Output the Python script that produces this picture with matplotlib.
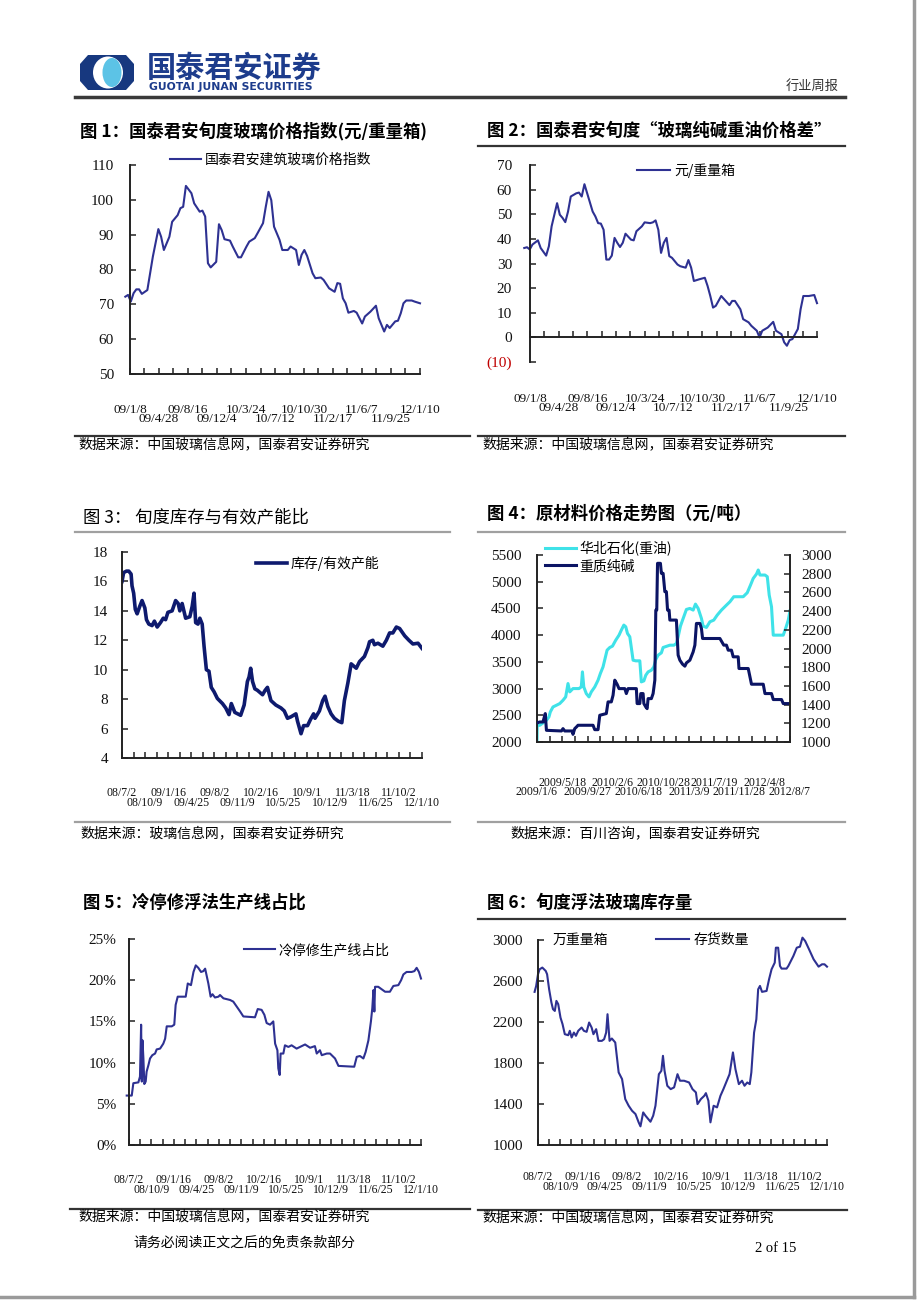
import numpy as np
import matplotlib.pyplot as plt
from matplotlib.patches import Polygon, Ellipse

plt.rcParams['font.family'] = ['Noto Sans CJK SC', 'DejaVu Sans']
SERIF = ['Liberation Serif', 'DejaVu Serif']

# ---------------- data ----------------
# fig 1: glass price index, x = 旬 index from 09/01/08
p1 = [0, 1, 2, 3, 4, 5, 6, 8, 9, 10,
      12, 13, 14, 16, 17, 19, 20, 21, 22, 24,
      25, 27, 28, 29, 30, 31, 33, 34, 35, 36,
      38, 39, 41, 42, 44, 45, 47, 48, 50, 51,
      52, 53, 54, 56, 57, 59, 60, 62, 63, 64,
      65, 66, 68, 69, 71, 72, 74, 76, 77, 78,
      79, 80, 81, 83, 84, 86, 87, 89, 91, 92,
      94, 95, 96, 98, 99, 100, 101, 102, 104, 105,
      107]
v1 = [72.2, 72.7, 70.8, 73.2, 74.3, 74.3, 73.0, 74.1, 78.9, 83.7,
      91.6, 89.4, 85.6, 89.4, 93.7, 95.6, 97.6, 98.0, 104.0, 101.9,
      99.0, 96.6, 96.9, 95.2, 81.8, 80.6, 82.2, 93.0, 91.3, 88.7,
      88.3, 86.6, 83.5, 83.5, 86.6, 88.0, 89.0, 90.4, 93.3, 98.0,
      102.3, 99.9, 92.3, 88.5, 85.6, 85.6, 86.6, 85.6, 81.3, 84.2,
      85.6, 83.9, 78.9, 77.5, 77.7, 77.0, 74.6, 73.6, 76.1, 75.9,
      71.7, 70.3, 67.6, 68.1, 67.6, 64.5, 66.5, 67.9, 69.6, 66.0,
      62.2, 64.1, 63.2, 65.1, 65.3, 67.4, 70.3, 71.1, 71.1, 70.8,
      70.3]

# fig 2: glass - soda ash - heavy oil spread
p2 = [0, 1, 2, 3, 5, 6, 8, 9, 10, 11,
      12, 13, 14, 15, 16, 17, 19, 20, 21, 22,
      23, 25, 26, 27, 28, 29, 30, 31, 32, 33,
      34, 35, 36, 37, 39, 40, 41, 43, 44, 46,
      47, 48, 49, 50, 51, 52, 53, 54, 56, 57,
      59, 60, 61, 62, 64, 66, 67, 68, 69, 70,
      71, 72, 75, 76, 77, 79, 80, 82, 83, 85,
      86, 87, 89, 91, 92, 94, 95, 96, 97, 98,
      100, 101, 102, 104, 106, 107]
v2 = [36.3, 36.6, 35.7, 37.7, 39.4, 36.3, 33.2, 37.0, 45.1, 49.8,
      54.5, 49.8, 48.5, 46.8, 51.1, 57.2, 58.5, 58.8, 57.2, 62.2,
      58.5, 51.1, 49.1, 46.4, 46.2, 43.7, 31.6, 31.6, 33.2, 40.4,
      38.4, 36.7, 38.4, 42.1, 39.7, 39.4, 43.1, 45.1, 46.7, 46.4,
      46.7, 47.5, 43.7, 34.3, 38.4, 40.4, 33.0, 32.3, 29.6, 28.9,
      28.3, 31.4, 28.3, 22.9, 23.6, 24.2, 20.9, 16.8, 12.1, 12.8,
      14.8, 16.8, 13.1, 14.8, 14.8, 11.4, 7.4, 6.1, 4.7, 2.7,
      0.0, 2.7, 4.0, 6.3, 2.7, 1.3, -2.0, -3.4, -1.1, -0.7,
      3.4, 11.4, 16.8, 16.8, 17.2, 13.9]

# fig 3: inventory / effective capacity, x = days from 08/07/02
d3 = [0, 7, 19, 29, 39, 43, 50, 57, 65, 76,
      86, 98, 105, 115, 129, 139, 151, 165, 177, 187,
      197, 215, 230, 241, 248, 258, 273, 291, 301, 309,
      316, 326, 334, 344, 352, 362, 373, 383, 395, 409,
      431, 445, 459, 469, 484, 509, 524, 538, 545, 552,
      560, 570, 581, 603, 614, 624, 639, 660, 682, 696,
      710, 725, 746, 753, 768, 779, 796, 808, 822, 828,
      847, 861, 871, 883, 897, 911, 928, 943, 954, 969,
      983, 1005, 1019, 1040, 1055, 1062, 1076, 1083, 1098, 1119,
      1134, 1148, 1162, 1177, 1191, 1213, 1231, 1248, 1270, 1287]
v3 = [16.0, 16.6, 16.7, 16.7, 16.5, 15.7, 15.2, 14.1, 13.8, 14.3,
      14.7, 14.2, 13.4, 13.1, 13.0, 13.3, 12.9, 13.2, 13.5, 13.4,
      13.9, 14.0, 14.7, 14.5, 14.0, 14.5, 13.5, 13.6, 14.3, 15.2,
      13.2, 13.1, 13.5, 13.1, 11.6, 10.0, 9.9, 8.8, 8.5, 8.05,
      7.7, 7.4, 6.95, 7.7, 7.1, 6.9, 7.6, 9.2, 9.5, 10.1,
      9.2, 8.7, 8.6, 8.3, 8.6, 8.8, 7.9, 7.6, 7.4, 7.2,
      6.7, 6.8, 7.0, 6.5, 5.65, 6.2, 6.2, 6.6, 7.0, 6.7,
      7.2, 7.9, 8.2, 7.5, 7.0, 6.7, 6.5, 6.4, 7.9, 9.1,
      10.4, 10.1, 10.55, 10.9, 11.5, 11.9, 12.0, 11.7, 11.8, 11.6,
      12.0, 12.5, 12.5, 12.9, 12.8, 12.3, 12.0, 11.75, 11.8, 11.45]

# fig 4: raw materials, x = days from 2009/01
d4_oil = [0, 1, 14, 31, 49, 62, 69, 83, 101, 118,
          135, 149, 161, 170, 187, 218, 230, 236, 243, 256,
          270, 282, 300, 317, 329, 343, 364, 378, 392, 409,
          426, 438, 451, 461, 470, 482, 499, 513, 534, 542,
          555, 565, 577, 594, 607, 617, 629, 646, 655, 690,
          711, 724, 733, 745, 756, 776, 794, 811, 823, 837,
          854, 863, 880, 898, 918, 936, 958, 984, 1002, 1022,
          1071, 1092, 1109, 1123, 1140, 1149, 1158, 1184, 1196, 1206,
          1218, 1227, 1279, 1293, 1305, 1314]
v4_oil = [2000, 2312, 2312, 2356, 2406, 2469, 2562, 2656, 2688, 2719,
          2781, 2844, 3094, 2938, 3000, 3000, 3031, 3312, 3031, 2906,
          2844, 2938, 3031, 3156, 3281, 3406, 3719, 3769, 3794, 3906,
          4000, 4094, 4188, 4156, 4031, 3969, 3531, 3519, 3519, 3125,
          3144, 3250, 3312, 3344, 3406, 3544, 3625, 3669, 3769, 3812,
          3812, 3844, 3969, 4169, 4281, 4481, 4500, 4469, 4581, 4500,
          4312, 4169, 4144, 4250, 4281, 4375, 4469, 4562, 4625, 4719,
          4719, 4794, 4938, 5062, 5144, 5219, 5125, 5125, 5094, 4750,
          4531, 4000, 4000, 4144, 4281, 4456]
d4_soda = [0, 14, 31, 43, 49, 127, 135, 144, 184, 187,
           196, 205, 213, 291, 300, 317, 326, 360, 369, 386,
           395, 404, 416, 426, 456, 464, 473, 516, 520, 534,
           539, 551, 555, 565, 572, 577, 594, 603, 612, 617,
           622, 626, 641, 646, 655, 664, 672, 678, 686, 690,
           724, 733, 742, 756, 768, 776, 794, 811, 820, 828,
           846, 854, 860, 950, 970, 984, 993, 1010, 1019, 1045,
           1049, 1097, 1114, 1175, 1184, 1218, 1227, 1270, 1279, 1314]
v4_soda = [1204, 1214, 1214, 1304, 1125, 1118, 1143, 1118, 1118, 1082,
           1143, 1161, 1179, 1179, 1132, 1132, 1286, 1304, 1429, 1429,
           1500, 1661, 1618, 1571, 1571, 1518, 1571, 1571, 1411, 1411,
           1518, 1518, 1411, 1375, 1357, 1464, 1464, 1518, 1661, 2411,
           2411, 2911, 2911, 2804, 2804, 2607, 2607, 2411, 2411, 2304,
           2304, 1929, 1875, 1832, 1811, 1846, 1875, 1964, 2036, 2268,
           2268, 2214, 2107, 2107, 2036, 2036, 1982, 1982, 1911, 1911,
           1786, 1786, 1618, 1618, 1518, 1518, 1454, 1454, 1411, 1411]

# fig 5: share of cold-repair lines (%)
d5 = [0, 22, 29, 51, 58, 63, 66, 69, 73, 77,
      83, 87, 95, 102, 112, 124, 131, 146, 160, 168,
      175, 197, 208, 214, 223, 258, 267, 281, 292, 302,
      313, 325, 335, 343, 357, 367, 375, 386, 401, 408,
      423, 452, 466, 481, 496, 510, 561, 573, 590, 602,
      612, 627, 641, 649, 659, 663, 669, 673, 685, 692,
      707, 721, 743, 780, 802, 823, 831, 845, 853, 875,
      889, 911, 926, 995, 1006, 1020, 1035, 1045, 1057, 1068,
      1074, 1079, 1083, 1086, 1100, 1130, 1151, 1166, 1188, 1200,
      1210, 1224, 1246, 1258, 1268, 1278, 1287]
v5 = [6.0, 6.0, 7.5, 7.6, 8.3, 14.6, 7.7, 12.7, 10.5, 7.4,
      7.7, 8.9, 9.7, 10.5, 10.9, 11.1, 11.6, 11.7, 12.3, 12.9,
      14.4, 14.4, 14.6, 17.0, 18.0, 18.0, 19.6, 19.4, 21.0, 21.8,
      21.5, 21.0, 21.1, 21.4, 19.6, 18.0, 18.3, 17.9, 18.0, 18.2,
      17.8, 17.6, 17.4, 16.8, 16.2, 15.6, 15.5, 16.5, 16.4, 15.8,
      14.8, 14.6, 15.0, 12.3, 11.5, 9.3, 8.5, 11.1, 11.1, 12.1,
      11.9, 12.1, 11.7, 12.2, 11.8, 12.0, 11.1, 11.5, 10.9, 11.1,
      11.1, 10.5, 9.6, 9.5, 10.7, 10.8, 10.5, 11.3, 12.7, 15.0,
      16.6, 18.8, 16.2, 19.2, 19.2, 18.6, 18.6, 19.3, 19.4, 20.0,
      20.7, 21.0, 21.0, 21.1, 21.5, 21.0, 20.2]

# fig 6: float glass inventory (万重量箱)
d6 = [0, 7, 15, 22, 34, 49, 55, 64, 74, 81,
      89, 96, 104, 114, 123, 133, 148, 155, 163, 173,
      182, 192, 207, 217, 229, 240, 251, 259, 271, 281,
      296, 306, 315, 321, 330, 340, 355, 370, 385, 399,
      414, 429, 444, 458, 466, 478, 488, 510, 522, 532,
      547, 558, 565, 572, 584, 599, 614, 629, 640, 658,
      680, 695, 710, 717, 732, 747, 754, 765, 774, 788,
      803, 818, 831, 843, 858, 873, 884, 899, 913, 924,
      936, 947, 954, 966, 976, 984, 992, 1001, 1021, 1032,
      1043, 1057, 1062, 1072, 1080, 1087, 1109, 1117, 1139, 1154,
      1168, 1179, 1191, 1208, 1228, 1250, 1265, 1276, 1287]
v6 = [2494, 2552, 2666, 2714, 2731, 2698, 2666, 2519, 2390, 2325,
      2308, 2406, 2374, 2243, 2179, 2081, 2071, 2114, 2049, 2097,
      2065, 2114, 2146, 2114, 2104, 2195, 2146, 2081, 2130, 2016,
      2016, 2032, 2097, 2276, 2016, 2039, 2000, 1708, 1643, 1448,
      1383, 1334, 1302, 1221, 1182, 1318, 1286, 1227, 1286, 1383,
      1691, 1724, 1870, 1724, 1578, 1545, 1562, 1691, 1627, 1627,
      1610, 1545, 1513, 1399, 1448, 1480, 1506, 1432, 1221, 1383,
      1367, 1480, 1545, 1610, 1691, 1903, 1740, 1594, 1627, 1578,
      1610, 1594, 1708, 2097, 2227, 2519, 2552, 2494, 2503, 2617,
      2714, 2779, 2925, 2925, 2747, 2721, 2721, 2747, 2844, 2925,
      2935, 3023, 2990, 2909, 2812, 2740, 2763, 2763, 2740]

# date labels (one on every second tick mark)
dates_09 = ['09/1/8', '09/4/28', '09/8/16', '09/12/4', '10/3/24', '10/7/12',
            '10/10/30', '11/2/17', '11/6/7', '11/9/25', '12/1/10']
dates_08 = ['08/7/2', '08/10/9', '09/1/16', '09/4/25', '09/8/2', '09/11/9',
            '10/2/16', '10/5/25', '10/9/1', '10/12/9', '11/3/18', '11/6/25',
            '11/10/2', '12/1/10']
dates_raw = ['2009/1/6', '2009/5/18', '2009/9/27', '2010/2/6', '2010/6/18',
             '2010/10/28', '2011/3/9', '2011/7/19', '2011/11/28', '2012/4/8',
             '2012/8/7']

# ---------------- page ----------------
W, H = 920, 1300
fig = plt.figure(figsize=(W / 100, H / 100), dpi=100)
fig.patch.set_facecolor('white')

page = fig.add_axes([0, 0, 1, 1])
page.set_xlim(0, W)
page.set_ylim(H, 0)
page.axis('off')

NAVY = '#2E3192'
DARK = '#0E1A6E'
CYAN = '#3FE2E8'
INK = '#222222'


def px_axes(l, t, r, b):
    ax = fig.add_axes([l / W, 1 - b / H, (r - l) / W, (b - t) / H])
    ax.set_facecolor('none')
    for s in ['top', 'right']:
        ax.spines[s].set_visible(False)
    for s in ['left', 'bottom']:
        ax.spines[s].set_color(INK)
        ax.spines[s].set_linewidth(1.4)
    ax.tick_params(direction='in', length=4, width=1.1, color=INK)
    return ax


def yticks(ax, vals, labels, pad):
    ax.set_yticks(vals, labels, fontsize=11, fontfamily=SERIF, color='#111')
    ax.tick_params(axis='y', pad=pad)


def xdates(ax, lo, hi, labels, pads, size):
    # tick marks every half step, a label on every second one, two staggered rows
    n = 2 * len(labels) - 1
    shown = []
    for i in range(n):
        shown.append(labels[i // 2] if i % 2 == 0 else '')
    ax.set_xticks(np.linspace(lo, hi, n), shown,
                  fontsize=size, fontfamily=SERIF, color='#111')
    for i, tk in enumerate(ax.xaxis.get_major_ticks()):
        tk.set_pad(pads[(i // 2) % len(pads)])


def legend_at(ax, handles, x, y, hl=2.2, **kw):
    ax.legend(handles=handles, loc='center left',
              bbox_to_anchor=(x / W, 1 - y / H), bbox_transform=fig.transFigure,
              frameon=False, borderpad=0, borderaxespad=0, handlelength=hl,
              handletextpad=0.3, prop={'size': 10}, **kw)


# header
page.add_patch(Polygon([(80, 64), (88, 55), (126, 55), (134, 64), (134, 81),
                        (126, 90), (88, 90), (80, 81)], closed=True,
                       facecolor='#17387F', edgecolor='none'))
page.add_patch(Ellipse((108, 72.5), 30, 32, facecolor='white', edgecolor='none'))
page.add_patch(Ellipse((112, 72.5), 19, 29, facecolor='#5CC3E6', edgecolor='none'))
page.text(147, 68, '国泰君安证券', fontsize=21, fontweight='bold', color='#1D3C8C', va='center')
page.text(149, 86.5, 'GUOTAI JUNAN SECURITIES', fontsize=7.8, fontweight='bold',
          color='#1D3C8C', va='center', fontfamily=['DejaVu Sans'])
page.text(786, 86, '行业周报', fontsize=9.5, color='#333', va='center')
page.plot([75, 845], [97, 97], color='#3A3A3A', lw=2.5)

# page border
page.plot([914, 914], [0, 1297], color='#9A9A9A', lw=2.5)
page.plot([0, 914], [1297, 1297], color='#9A9A9A', lw=2.5)

# titles
page.text(80, 131, '图 1：国泰君安旬度玻璃价格指数(元/重量箱)', fontsize=12.5,
          fontweight='bold', va='center')
page.text(487, 131, '图 2：国泰君安旬度“玻璃纯碱重油价格差”', fontsize=12.5,
          fontweight='bold', va='center')
page.text(83, 517, '图 3： 旬度库存与有效产能比', fontsize=12.5, va='center')
page.text(487, 514, '图 4：原材料价格走势图（元/吨）', fontsize=12.5,
          fontweight='bold', va='center')
page.text(83, 903, '图 5：冷停修浮法生产线占比', fontsize=12.5, fontweight='bold', va='center')
page.text(487, 903, '图 6：旬度浮法玻璃库存量', fontsize=12.5, fontweight='bold', va='center')

# rules under titles and above sources
for xs, y, c in [([478, 845], 146, '#333'), ([75, 470], 436, '#333'),
                 ([478, 845], 436, '#333'), ([75, 450], 532, '#A0A0A0'),
                 ([478, 845], 532, '#A0A0A0'), ([75, 450], 822, '#A0A0A0'),
                 ([478, 845], 822, '#A0A0A0'), ([478, 845], 919, '#333'),
                 ([70, 470], 1209, '#333'), ([478, 847], 1210, '#333')]:
    page.plot(xs, [y, y], color=c, lw=1.6)

src = '数据来源：中国玻璃信息网，国泰君安证券研究'
page.text(78, 444, src, fontsize=10, va='center')
page.text(482, 444, src, fontsize=10, va='center')
page.text(80, 833, '数据来源：玻璃信息网，国泰君安证券研究', fontsize=10, va='center')
page.text(510, 833, '数据来源：百川咨询，国泰君安证券研究', fontsize=10, va='center')
page.text(78, 1216, src, fontsize=10, va='center')
page.text(482, 1217, src, fontsize=10, va='center')
page.text(133, 1243, '请务必阅读正文之后的免责条款部分', fontsize=10, va='center')
page.text(755, 1248, '2 of 15', fontsize=10.5, fontfamily=SERIF, va='center')

# ---------------- fig 1 ----------------
ax1 = px_axes(130, 165, 420, 374)
l1, = ax1.plot(p1, v1, color=NAVY, lw=1.5, clip_on=False)
ax1.set_xlim(1.7, 107)
ax1.set_ylim(50, 110)
yticks(ax1, range(50, 111, 10), [str(v) for v in range(50, 111, 10)], 11.5)
xdates(ax1, 1.7, 107, dates_09, [21.5, 28], 9.5)
legend_at(ax1, [l1], 170, 160, labels=['国泰君安建筑玻璃价格指数'])

# ---------------- fig 2 ----------------
ax2 = px_axes(530, 165, 817, 362)
l2, = ax2.plot(p2, v2, color=NAVY, lw=1.5, clip_on=False)
ax2.set_xlim(2.1, 107)
ax2.set_ylim(-10, 70)
ax2.spines['bottom'].set_position(('data', 0))
yticks(ax2, range(-10, 71, 10), ['(10)'] + [str(v) for v in range(0, 71, 10)], 13)
ax2.get_yticklabels()[0].set_color('#C00000')
xdates(ax2, 2.1, 107, dates_09, [40, 46.5], 9.5)
legend_at(ax2, [l2], 637, 171, hl=2.4, labels=['元/重量箱'])

# ---------------- fig 3 ----------------
ax3 = px_axes(122, 552, 422, 758)
l3, = ax3.plot(d3, v3, color=DARK, lw=2.6)
ax3.set_xlim(0, 1287)
ax3.set_ylim(4, 18)
yticks(ax3, range(4, 19, 2), [str(v) for v in range(4, 19, 2)], 10)
xdates(ax3, 0, 1287, dates_08, [21, 28], 8.5)
legend_at(ax3, [l3], 256, 563, labels=['库存/有效产能'])

# ---------------- fig 4 ----------------
ax4 = px_axes(537, 555, 790, 742)
l4a, = ax4.plot(d4_oil, v4_oil, color=CYAN, lw=2.2)
ax4.set_xlim(0, 1314)
ax4.set_ylim(2000, 5500)
yticks(ax4, range(2000, 5501, 500), [str(v) for v in range(2000, 5501, 500)], 11)
xdates(ax4, 0, 1314, dates_raw, [32, 25], 8.5)
ax4r = ax4.twinx()
ax4r.set_facecolor('none')
for s in ['top', 'left', 'bottom']:
    ax4r.spines[s].set_visible(False)
ax4r.spines['right'].set_color(INK)
ax4r.spines['right'].set_linewidth(1.4)
ax4r.tick_params(direction='in', length=4, width=1.1, color=INK)
l4b, = ax4r.plot(d4_soda, v4_soda, color='#0B1464', lw=2.2)
ax4r.set_ylim(1000, 3000)
ax4r.set_yticks(range(1000, 3001, 200), [str(v) for v in range(1000, 3001, 200)],
                fontsize=11, fontfamily=SERIF, color='#111')
ax4r.tick_params(axis='y', pad=8)
legend_at(ax4r, [l4a, l4b], 545, 557, labels=['华北石化(重油)', '重质纯碱'],
          labelspacing=0.25)

# ---------------- fig 5 ----------------
ax5 = px_axes(129, 939, 421, 1145)
l5, = ax5.plot(d5, v5, color=NAVY, lw=1.5, clip_on=False)
ax5.set_xlim(10, 1287)
ax5.set_ylim(0, 25)
yticks(ax5, range(0, 26, 5), [f'{v}%' for v in range(0, 26, 5)], 9)
xdates(ax5, 10, 1287, dates_08, [21, 28], 8.5)
legend_at(ax5, [l5], 244, 950, labels=['冷停修生产线占比'])

# ---------------- fig 6 ----------------
ax6 = px_axes(538, 940, 827, 1145)
l6, = ax6.plot(d6, v6, color=NAVY, lw=1.5, clip_on=False)
ax6.set_xlim(15, 1287)
ax6.set_ylim(1000, 3000)
yticks(ax6, range(1000, 3001, 400), [str(v) for v in range(1000, 3001, 400)], 11)
xdates(ax6, 15, 1287, dates_08, [19, 26], 8.5)
page.text(553, 940, '万重量箱', fontsize=10, va='center')
legend_at(ax6, [l6], 656, 940, hl=2.4, labels=['存货数量'])

fig.savefig('out.png', dpi=100, facecolor='white')
